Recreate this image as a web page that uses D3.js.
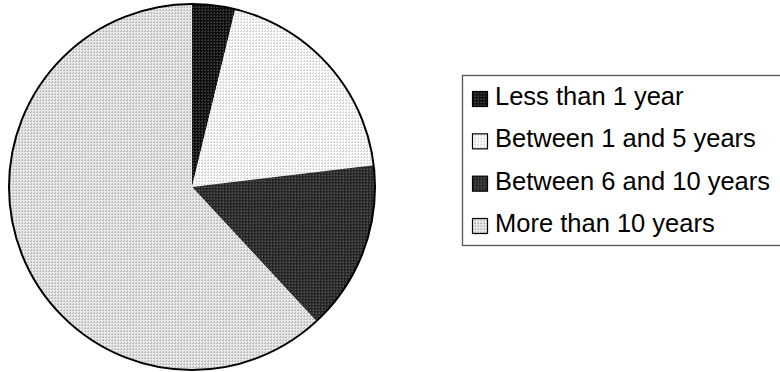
<!DOCTYPE html>
<html>
<head>
<meta charset="utf-8">
<script src="https://cdn.jsdelivr.net/npm/d3@7"></script>
<style>
  html, body { margin: 0; padding: 0; background: #fff; }
  svg { display: block; }
</style>
</head>
<body>
<svg id="chart" width="780" height="372"></svg>
<script>
// Length of service, share of respondents (%)
const categories = ["Less than 1 year", "Between 1 and 5 years", "Between 6 and 10 years", "More than 10 years"];
const shares = [3.8, 19.3, 15.0, 61.9];

// Dotted fills: [base colour, dot colour] for each slice
const fillBase = ["#0e0e0e", "#ffffff", "#262626", "#e8e8e8"];
const fillDots = ["#3a3a3a", "#d4d4d4", "#4a4a4a", "#bdbdbd"];

const svg = d3.select("#chart");
const defs = svg.append("defs");

categories.forEach((c, i) => {
  const p = defs.append("pattern")
    .attr("id", "fill" + i)
    .attr("patternUnits", "userSpaceOnUse")
    .attr("width", 3).attr("height", 3);
  p.append("rect").attr("width", 3).attr("height", 3).attr("fill", fillBase[i]);
  p.append("rect").attr("x", 0).attr("y", 0).attr("width", 2).attr("height", 1).attr("fill", fillDots[i]);
  p.append("rect").attr("x", 1).attr("y", 2).attr("width", 1).attr("height", 1).attr("fill", fillDots[i]);
});

// Pie
const cx = 192, cy = 187, radius = 183;
const pie = d3.pie().sort(null).value(d => d)(shares);
const arc = d3.arc().innerRadius(0).outerRadius(radius);

const g = svg.append("g").attr("transform", `translate(${cx},${cy})`);
g.selectAll("path.slice")
  .data(pie)
  .join("path")
  .attr("class", "slice")
  .attr("d", arc)
  .attr("fill", (d, i) => `url(#fill${i})`);

g.append("circle")
  .attr("r", radius)
  .attr("fill", "none")
  .attr("stroke", "#000")
  .attr("stroke-width", 2);

// Legend
const legend = svg.append("g");
legend.append("rect")
  .attr("x", 462.5).attr("y", 75.5)
  .attr("width", 340).attr("height", 170)
  .attr("fill", "#fff")
  .attr("stroke", "#555")
  .attr("stroke-width", 1.3);

const rowY = d3.scalePoint().domain(categories).range([105, 232]);

const rows = legend.selectAll("g.item")
  .data(categories)
  .join("g")
  .attr("class", "item")
  .attr("transform", d => `translate(0,${rowY(d)})`);

rows.append("rect")
  .attr("x", 472.5).attr("y", -13.5)
  .attr("width", 15).attr("height", 15)
  .attr("fill", (d, i) => `url(#fill${i})`)
  .attr("stroke", "#000")
  .attr("stroke-width", 1.2);

rows.append("text")
  .attr("x", 495).attr("y", 0)
  .attr("font-family", "'Liberation Sans', Arial, sans-serif")
  .attr("font-size", "25.5px")
  .attr("fill", "#000")
  .text(d => d);
</script>
</body>
</html>
